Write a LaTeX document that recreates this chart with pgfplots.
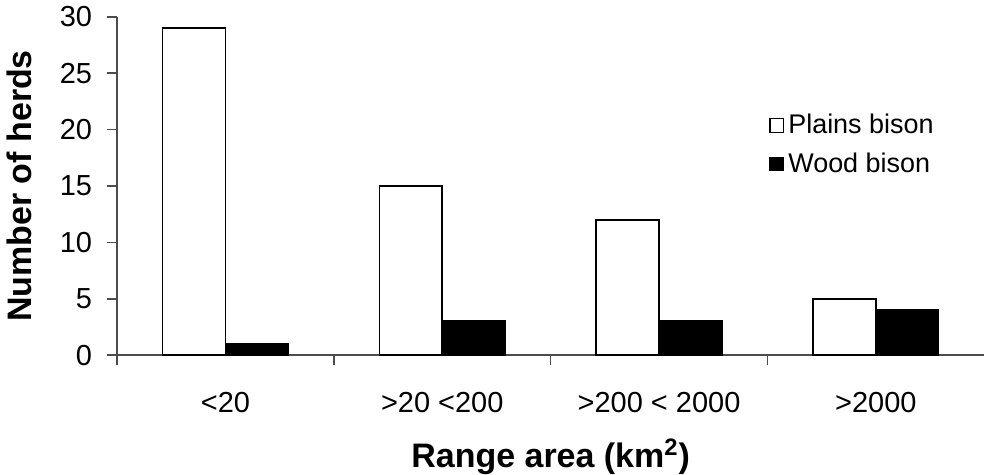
\documentclass[border=0pt]{standalone}
\usepackage{pgfplots}
\pgfplotsset{compat=1.18}
\usepackage{fontspec}
\setmainfont{Liberation Sans}
\begin{document}
\begin{tikzpicture}
  \begin{axis}[
    scale only axis,
    width=434pt, height=169.25pt,
    xmin=0.5, xmax=4.5,
    ymin=0, ymax=30,
    axis x line*=bottom,
    axis y line*=left,
    axis line style={black!70, line width=0.8pt},
    % tick marks at the category boundaries, names in between
    xtick={0.5,1.5,2.5,3.5},
    xticklabels={},
    x tick style={black!70, line width=0.8pt},
    extra x ticks={1,2,3,4},
    extra x tick labels={{<20},{>20 <200},{>200 < 2000},{>2000}},
    extra x tick style={major tick length=0pt, tick style={draw=none},
      xticklabel style={yshift=-15pt}},
    ytick={0,5,...,30},
    tick align=outside,
    major tick length=5pt,
    y tick style={black!70, line width=0.8pt},
    tick label style={font=\fontsize{14.5}{17}\selectfont},
    yticklabel style={xshift=-4pt},
    /pgf/number format/assume math mode=true,
    xlabel={\textbf{Range area (km\textsuperscript{2})}},
    ylabel={\textbf{Number of herds}},
    label style={font=\fontsize{17}{20}\selectfont},
    xlabel style={inner sep=0pt, yshift=-4.5pt},
    ylabel style={at={(axis description cs:-0.113,0.5)}, anchor=center},
    legend style={at={(0.745,0.737)}, anchor=north west, draw=none, fill=none,
      font=\fontsize{13.5}{16}\selectfont, row sep=4pt,
      legend cell align=left},
    legend image code/.code={\draw[#1, line width=0.6pt] (0pt,-3.4pt) rectangle (6.8pt,3.4pt);},
  ]
    % Plains bison
    \addplot[ybar, bar width=0.29, bar shift=-0.145, draw=black, fill=white, line width=0.8pt]
      coordinates {(1,29) (2,15) (3,12) (4,5)};
    % Wood bison
    \addplot[ybar, bar width=0.29, bar shift=0.145, draw=black, fill=black, line width=0.8pt]
      coordinates {(1,1) (2,3) (3,3) (4,4)};
    \legend{Plains bison, Wood bison}
  \end{axis}
\end{tikzpicture}
\end{document}
